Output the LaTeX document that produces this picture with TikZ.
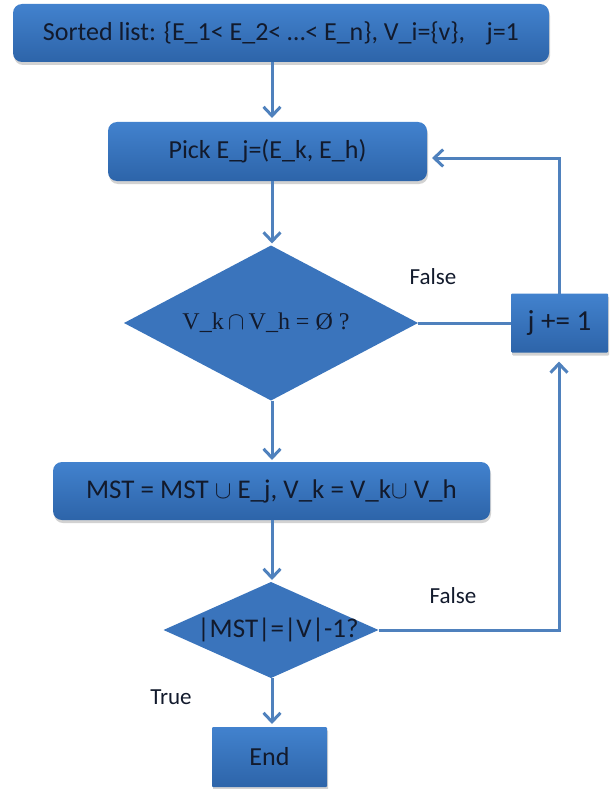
\documentclass[tikz,border=0pt]{standalone}
\usepackage{fontspec}
\setmainfont{Carlito}
\newfontfamily\serifmath{Liberation Serif}
\usetikzlibrary{shapes.geometric,arrows.meta,shadows}
\definecolor{boxtop}{HTML}{4282CE}
\definecolor{boxbot}{HTML}{2D64A9}
\definecolor{dfill}{HTML}{3A74BC}
\definecolor{linec}{HTML}{4F81BD}
\definecolor{txt}{HTML}{121A2C}
\tikzset{
  boxbase/.style={draw=none, top color=boxtop, bottom color=boxbot, text=txt,
    inner sep=0pt, outer sep=0pt,
    drop shadow={shadow xshift=1pt, shadow yshift=-3pt, opacity=0.25, fill=black!70}},
  roundbox/.style={boxbase, rounded corners=9pt},
  squarebox/.style={boxbase, rounded corners=1pt},
  decision/.style={diamond, fill=dfill, draw=none, text=txt, inner sep=0pt, outer sep=0pt},
  conn/.style={draw=linec, line width=3pt},
  arr/.style={conn, -{Straight Barb[length=9pt, width=17pt, line width=3pt]}},
  lbl/.style={text=txt, font=\fontsize{23}{26}\selectfont}
}
\begin{document}
\begin{tikzpicture}[x=1pt, y=-1pt]
\useasboundingbox (0,0) rectangle (613,789);
\node[roundbox, minimum width=536pt, minimum height=58pt, font=\fontsize{26}{29}\selectfont]
  (top) at (281,33) {Sorted list: \{E\_1< E\_2< \ldots< E\_n\}, V\_i=\{v\},\hspace{0.6em} j=1\hspace{1.1em}};
\node[roundbox, minimum width=319pt, minimum height=59pt, font=\fontsize{26}{29}\selectfont]
  (pick) at (267.5,151.5) {Pick E\_j=(E\_k, E\_h)};
\node[decision, minimum width=294pt, minimum height=155pt,
  label={[text=txt, font=\serifmath\fontsize{24}{28}\selectfont, xshift=-5pt]center:{V\_k$\,\cap\,$V\_h = Ø ?}}]
  (d1) at (271,323) {};
\node[squarebox, minimum width=97pt, minimum height=59pt, font=\fontsize{29}{32}\selectfont]
  (inc) at (559.5,323) {j += 1\hspace{14pt}};
\node[roundbox, minimum width=437pt, minimum height=58pt, font=\fontsize{27}{30}\selectfont]
  (mst) at (271.5,491) {MST = MST $\cup$ E\_j, V\_k = V\_k$\cup$ V\_h\hspace{22pt}};
\node[decision, minimum width=215pt, minimum height=96pt,
  label={[text=txt, font=\fontsize{27}{30}\selectfont, xshift=7pt]center:{|MST|=|V|-1?}}]
  (d2) at (271,630) {};
\node[squarebox, minimum width=115pt, minimum height=60pt, font=\fontsize{26}{29}\selectfont]
  (end) at (269.5,757) {End};
\node[lbl] (f1) at (433,277) {False};
\node[lbl] (f2) at (453,596) {False};
\node[lbl] (tr) at (171,697) {True};
\coordinate (cx) at (272,0);
\coordinate (rx) at (559,0);
\coordinate (ly) at (0,158);
\draw[arr] (top.south -| cx) -- ([yshift=4pt]pick.north -| cx);
\draw[arr] (pick.south -| cx) -- ([yshift=2pt]d1.north -| cx);
\draw[arr] (d1.south -| cx) -- ([yshift=2pt]mst.north -| cx);
\draw[arr] (mst.south -| cx) -- ([yshift=2pt]d2.north -| cx);
\draw[arr] (d2.south -| cx) -- ([yshift=3pt]end.north -| cx);
\draw[conn] (d1.east) -- (d1.east -| inc.west);
\draw[arr] (inc.north -| rx) |- ([xshift=5pt]pick.east |- ly);
\draw[arr] (d2.east) -| ([yshift=-9pt]inc.south -| rx);
\end{tikzpicture}
\end{document}
